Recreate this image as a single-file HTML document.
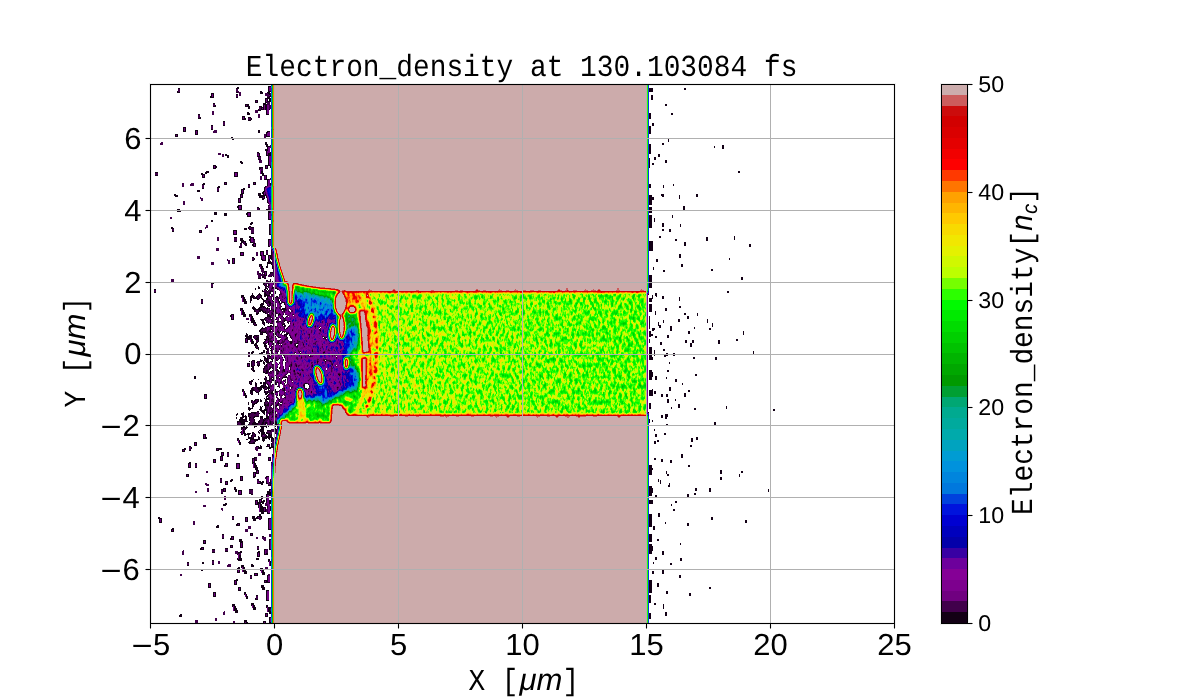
<!DOCTYPE html>
<html><head><meta charset="utf-8"><title>Electron_density at 130.103084 fs</title>
<style>
html,body{margin:0;padding:0;background:#fff;}
body{width:1200px;height:700px;overflow:hidden;position:relative;font-family:"Liberation Sans",sans-serif;}
svg{position:absolute;left:0;top:0;display:block;will-change:transform}
text{fill:#000;text-rendering:geometricPrecision}
.mono{font-family:"Liberation Mono",monospace}
.sans{font-family:"Liberation Sans",sans-serif}
</style></head><body>
<svg width="1200" height="700" viewBox="0 0 1200 700">

<defs>
<filter id="cmap" color-interpolation-filters="sRGB" filterUnits="userSpaceOnUse" x="150" y="84" width="745" height="540">
<feComponentTransfer><feFuncR type="discrete" tableValues="1 0.0745 0.2549 0.2549 0.4392 0.4392 0.4902 0.4902 0.5216 0.5216 0.4275 0.4275 0.2196 0.2196 0.0118 0.0118 0 0 0 0 0 0 0 0 0 0 0 0 0 0 0 0 0 0 0 0 0 0 0 0 0 0 0 0 0 0 0 0 0 0 0 0 0 0 0 0 0 0 0 0 0.1725 0.1725 0.4588 0.4588 0.7373 0.7373 0.8157 0.8157 0.8941 0.8941 0.9451 0.9451 0.9725 0.9725 1 1 1 1 1 1 1 1 1 1 0.9961 0.9961 0.9451 0.9451 0.8941 0.8941 0.8549 0.8549 0.8235 0.8235 0.8 0.8 0.8 0.8 0.8 0.8"/><feFuncG type="discrete" tableValues="1 0 0 0 0 0 0 0 0 0 0 0 0 0 0 0 0 0 0 0 0.0745 0.0745 0.2549 0.2549 0.4706 0.4706 0.5216 0.5216 0.5725 0.5725 0.6118 0.6118 0.6392 0.6392 0.6667 0.6667 0.6667 0.6667 0.6667 0.6667 0.6549 0.6549 0.6235 0.6235 0.6039 0.6039 0.6549 0.6549 0.7059 0.7059 0.7608 0.7608 0.8118 0.8118 0.8627 0.8627 0.9176 0.9176 0.9804 0.9804 1 1 1 1 1 1 0.9725 0.9725 0.9451 0.9451 0.9059 0.9059 0.8549 0.8549 0.7882 0.7882 0.7098 0.7098 0.6314 0.6314 0.4588 0.4588 0.2235 0.2235 0 0 0 0 0 0 0 0 0 0 0.0471 0.0471 0.3608 0.3608 0.6745 0.6745"/><feFuncB type="discrete" tableValues="1 0.0824 0.2941 0.2941 0.502 0.502 0.5569 0.5569 0.5882 0.5882 0.6118 0.6118 0.6392 0.6392 0.6667 0.6667 0.7412 0.7412 0.8196 0.8196 0.8667 0.8667 0.8667 0.8667 0.8667 0.8667 0.8667 0.8667 0.8667 0.8667 0.8275 0.8275 0.749 0.749 0.6706 0.6706 0.6157 0.6157 0.5647 0.5647 0.451 0.451 0.2 0.2 0 0 0 0 0 0 0 0 0 0 0 0 0 0 0 0 0 0 0 0 0 0 0 0 0 0 0 0 0 0 0 0 0 0 0 0 0 0 0 0 0 0 0 0 0 0 0 0 0 0 0.0471 0.0471 0.3608 0.3608 0.6745 0.6745"/></feComponentTransfer>
</filter>
<filter id="nz" color-interpolation-filters="sRGB" filterUnits="userSpaceOnUse" x="215" y="236" width="440" height="230">
<feTurbulence type="fractalNoise" baseFrequency="0.36 0.19" numOctaves="2" seed="7" result="t"/>
<feColorMatrix in="t" type="matrix" values="1 0 0 0 0 1 0 0 0 0 1 0 0 0 0 0 0 0 0 1" result="g"/>
<feComposite in="g" in2="SourceGraphic" operator="in" result="gm"/>
<feComposite in="SourceGraphic" in2="gm" operator="arithmetic" k1="0" k2="1" k3="0.340" k4="-0.170"/>
</filter>
<filter id="nzp" color-interpolation-filters="sRGB" filterUnits="userSpaceOnUse" x="215" y="236" width="440" height="230">
<feTurbulence type="fractalNoise" baseFrequency="0.36 0.22" numOctaves="2" seed="3" result="t"/>
<feColorMatrix in="t" type="matrix" values="1 0 0 0 0 1 0 0 0 0 1 0 0 0 0 0 0 0 0 1" result="g"/>
<feComposite in="g" in2="SourceGraphic" operator="in" result="gm"/>
<feComposite in="SourceGraphic" in2="gm" operator="arithmetic" k1="0" k2="1" k3="0.260" k4="-0.130"/>
</filter>
<filter id="nzc" color-interpolation-filters="sRGB" filterUnits="userSpaceOnUse" x="215" y="236" width="440" height="230">
<feTurbulence type="fractalNoise" baseFrequency="0.2 0.15" numOctaves="2" seed="11" result="t"/>
<feColorMatrix in="t" type="matrix" values="1 0 0 0 0 1 0 0 0 0 1 0 0 0 0 0 0 0 0 1" result="g"/>
<feComposite in="g" in2="SourceGraphic" operator="in" result="gm"/>
<feComposite in="SourceGraphic" in2="gm" operator="arithmetic" k1="0" k2="1" k3="0.100" k4="-0.050"/>
</filter>
<filter id="wb" color-interpolation-filters="sRGB" filterUnits="userSpaceOnUse" x="140" y="74" width="765" height="560"><feGaussianBlur stdDeviation="0.8"/></filter>
<filter id="b1" color-interpolation-filters="sRGB" filterUnits="userSpaceOnUse" x="215" y="236" width="440" height="230"><feGaussianBlur stdDeviation="0.8"/></filter>
<filter id="b2" color-interpolation-filters="sRGB" filterUnits="userSpaceOnUse" x="215" y="236" width="440" height="230"><feGaussianBlur stdDeviation="1.6"/></filter>
<filter id="b3" color-interpolation-filters="sRGB" filterUnits="userSpaceOnUse" x="215" y="236" width="440" height="230"><feGaussianBlur stdDeviation="3"/></filter>
<filter id="b5" color-interpolation-filters="sRGB" filterUnits="userSpaceOnUse" x="215" y="236" width="440" height="230"><feGaussianBlur stdDeviation="5"/></filter>
<clipPath id="axclip"><rect x="151" y="85" width="743" height="538"/></clipPath>
</defs>
<g clip-path="url(#axclip)">
<g filter="url(#cmap)">
<rect x="150" y="84" width="745" height="540" fill="#000"/>
<clipPath id="cl1"><rect x="150" y="84" width="126.5" height="540"/></clipPath>
<linearGradient id="mg" gradientUnits="userSpaceOnUse" x1="258" y1="0" x2="280" y2="0"><stop offset="0" stop-color="#000"/><stop offset="1" stop-color="#fff"/></linearGradient>
<mask id="m2" maskUnits="userSpaceOnUse" x="150" y="84" width="745" height="540"><rect x="150" y="84" width="745" height="540" fill="url(#mg)"/></mask>
<g><g filter="url(#nzc)"><g filter="url(#b5)">
<path d="M246.0 290.0 L260.0 278.0 L290.0 274.0 L290.0 436.0 L262.0 434.0 L250.0 420.0 L243.0 395.0 L247.0 370.0 L242.0 350.0 L245.0 320.0 L242.0 300.0 Z" fill="#010101"/>
<path d="M262.0 292.0 L290.0 284.0 L290.0 428.0 L264.0 420.0 Z" fill="#040404"/>
<path d="M254.0 284.0 L262.0 262.0 L272.0 246.0 L280.0 246.0 L280.0 284.0 Z" fill="#010101"/>
<path d="M230.0 412.0 L248.0 402.0 L280.0 418.0 L280.0 452.0 L262.0 452.0 L246.0 446.0 L234.0 432.0 Z" fill="#030303"/>
</g></g></g>
<defs><g id="chan">
<linearGradient id="lg" gradientUnits="userSpaceOnUse" x1="370" y1="0" x2="648" y2="0"><stop offset="0" stop-color="#a5a5a5"/><stop offset="0.5" stop-color="#a1a1a1"/><stop offset="1" stop-color="#9d9d9d"/></linearGradient>
<rect x="277" y="282" width="370" height="142" fill="url(#lg)"/>
<g filter="url(#b3)">
<path d="M262.0 276.0 L292.0 290.0 L318.0 296.0 L334.0 300.0 L340.0 322.0 L346.0 345.0 L350.0 362.0 L346.0 392.0 L332.0 398.0 L304.0 400.0 L290.0 410.0 L280.0 420.0 L262.0 434.0 Z" fill="#151515"/>
<path d="M262.0 286.0 L284.0 292.0 L290.0 320.0 L286.0 350.0 L292.0 380.0 L284.0 410.0 L262.0 424.0 Z" fill="#0b0b0b"/>
<ellipse cx="318.0" cy="309.0" rx="19.0" ry="10.0" fill="#454545"/>
<ellipse cx="304.0" cy="296.0" rx="10.0" ry="5.0" fill="#4c4c4c"/>
<ellipse cx="351.0" cy="336.0" rx="8.0" ry="16.0" fill="#383838"/>
<ellipse cx="322.0" cy="388.0" rx="6.0" ry="21.0" fill="#383838" transform="rotate(-14 322.0 388.0)"/>
<ellipse cx="352.0" cy="379.0" rx="7.0" ry="13.0" fill="#2e2e2e"/>
<ellipse cx="337.0" cy="352.0" rx="8.0" ry="7.0" fill="#1a1a1a"/>
</g>
<g filter="url(#b2)">
<path d="M291.0 284.0 L340.0 290.0 L346.0 292.0 L346.0 294.0 L330.0 294.5 L300.0 290.0 L291.0 288.0 Z" fill="#808080"/>
<path d="M286.0 424.0 L290.0 413.0 L300.0 404.0 L314.0 408.0 L330.0 402.0 L346.0 397.0 L360.0 392.0 L368.0 400.0 L368.0 424.0 Z" fill="#8f8f8f"/>
<path d="M296.0 398.0 L305.0 398.0 L307.0 420.0 L298.0 420.0 Z" fill="#b8b8b8"/>
<ellipse cx="347.0" cy="318.0" rx="9.0" ry="12.0" fill="#737373"/>
<path d="M346.0 291.0 L360.0 291.0 L360.0 304.0 L352.0 303.0 L347.0 306.0 Z" fill="#d1d1d1"/>
<path d="M353 288 Q366 300 369 325 Q372 350 370 372 Q367 396 352 418" fill="none" stroke="#cccccc" stroke-width="3.2"/>
</g>
<g filter="url(#b1)">
<path d="M366 293 Q374 308 376 330 Q377.5 352 375 374 Q372 396 364 412" fill="none" stroke="#f7f7f7" stroke-width="3" stroke-dasharray="7 2 4 2"/>
</g>
</g></defs>
<clipPath id="cA"><rect x="150" y="84" width="215" height="540"/></clipPath><clipPath id="cB"><rect x="365" y="84" width="300" height="540"/></clipPath>
<g mask="url(#m2)"><g clip-path="url(#cA)"><g filter="url(#nzp)"><use href="#chan"/></g></g><g clip-path="url(#cB)"><g filter="url(#nz)"><use href="#chan"/></g></g></g>
<g filter="url(#b1)" fill="#000">
<ellipse cx="277.2" cy="292.3" rx="2.4" ry="5.3" transform="rotate(-15 277.2 292.3)"/>
<ellipse cx="283.4" cy="306.0" rx="2.9" ry="4.1" transform="rotate(-25 283.4 306.0)"/>
<ellipse cx="286.3" cy="323.2" rx="2.3" ry="5.3" transform="rotate(-25 286.3 323.2)"/>
<ellipse cx="289.2" cy="338.0" rx="2.4" ry="6.3" transform="rotate(-35 289.2 338.0)"/>
<ellipse cx="296.6" cy="344.9" rx="2.4" ry="2.9" transform="rotate(0 296.6 344.9)"/>
<ellipse cx="306.9" cy="386.0" rx="3.6" ry="3.7" transform="rotate(0 306.9 386.0)"/>
<ellipse cx="283.4" cy="362.6" rx="1.8" ry="2.0" transform="rotate(0 283.4 362.6)"/>
<ellipse cx="290.3" cy="365.4" rx="1.8" ry="2.1" transform="rotate(0 290.3 365.4)"/>
<ellipse cx="296.6" cy="358.6" rx="1.7" ry="2.0" transform="rotate(0 296.6 358.6)"/>
<ellipse cx="294.9" cy="373.4" rx="1.8" ry="2.0" transform="rotate(0 294.9 373.4)"/>
<ellipse cx="285.1" cy="378.6" rx="1.9" ry="2.1" transform="rotate(0 285.1 378.6)"/>
<ellipse cx="278.3" cy="368.9" rx="1.8" ry="2.0" transform="rotate(0 278.3 368.9)"/>
<ellipse cx="276.5" cy="388.3" rx="2.2" ry="4.1" transform="rotate(0 276.5 388.3)"/>
</g>
<rect x="647" y="292" width="1" height="123" fill="#121212"/>
<path fill="#030303" d="M178 88h2v5h-2zM177 91h2v2h-2zM236 88h2v5h-2zM237 87h2v2h-2zM260 91h2v3h-2zM261 92h2v2h-2zM211 93h3v5h-3zM210 96h2v2h-2zM267 93h2v5h-2zM236 94h2v4h-2zM268 94h3v3h-3zM271 97h3v3h-3zM272 99h3v3h-3zM265 98h3v5h-3zM267 101h2v2h-2zM255 100h3v3h-3zM267 101h3v8h-3zM213 103h2v4h-2zM214 105h2v2h-2zM247 104h2v3h-2zM248 106h2v3h-2zM263 103h3v3h-3zM264 105h3v3h-3zM265 107h3v3h-3zM266 109h3v3h-3zM245 104h3v3h-3zM246 105h2v2h-2zM263 106h3v3h-3zM265 107h2v2h-2zM266 105h4v5h-4zM267 106h2v2h-2zM259 106h2v5h-2zM258 109h2v2h-2zM261 107h3v3h-3zM260 106h2v2h-2zM247 112h2v3h-2zM248 113h2v2h-2zM198 114h2v5h-2zM199 117h2v2h-2zM242 116h3v4h-3zM244 118h2v2h-2zM248 117h3v4h-3zM250 118h2v2h-2zM223 121h2v5h-2zM211 125h2v5h-2zM183 127h3v5h-3zM184 128h2v2h-2zM195 130h3v5h-3zM272 128h3v3h-3zM271 127h2v2h-2zM258 130h2v3h-2zM266 132h4v5h-4zM265 135h2v2h-2zM175 134h3v3h-3zM231 137h2v2h-2zM232 138h2v2h-2zM265 142h2v3h-2zM266 144h2v3h-2zM257 152h2v5h-2zM266 150h3v6h-3zM265 149h2v2h-2zM225 154h2v2h-2zM257 153h3v4h-3zM227 155h2v3h-2zM258 156h3v4h-3zM240 161h2v2h-2zM241 162h2v2h-2zM270 164h3v4h-3zM272 165h2v2h-2zM213 165h3v4h-3zM215 166h2v2h-2zM265 165h3v4h-3zM259 167h2v3h-2zM260 169h2v3h-2zM261 171h2v3h-2zM262 173h2v3h-2zM261 167h2v5h-2zM155 172h3v4h-3zM206 171h3v2h-3zM205 172h2v2h-2zM234 172h4v5h-4zM235 173h2v2h-2zM202 174h3v4h-3zM201 173h2v2h-2zM264 175h3v5h-3zM224 182h3v3h-3zM253 182h3v3h-3zM268 183h3v3h-3zM269 185h3v3h-3zM202 184h2v5h-2zM203 183h2v2h-2zM248 184h2v4h-2zM217 187h2v5h-2zM218 186h2v2h-2zM197 190h3v2h-3zM241 189h3v5h-3zM243 188h2v2h-2zM263 191h3v5h-3zM262 192h2v2h-2zM240 194h3v4h-3zM258 193h3v3h-3zM259 195h3v3h-3zM175 195h3v2h-3zM174 194h2v2h-2zM268 195h3v3h-3zM269 197h3v3h-3zM270 199h3v3h-3zM271 201h3v3h-3zM272 195h2v5h-2zM262 198h2v2h-2zM262 196h3v3h-3zM261 195h2v2h-2zM238 198h3v5h-3zM239 201h2v2h-2zM238 205h4v5h-4zM237 206h2v2h-2zM268 205h2v5h-2zM257 207h2v4h-2zM258 208h2v2h-2zM177 209h3v3h-3zM179 210h2v2h-2zM266 209h3v2h-3zM270 209h2v5h-2zM214 212h3v3h-3zM247 212h4v5h-4zM246 213h2v2h-2zM224 213h3v3h-3zM270 217h2v3h-2zM271 216h2v2h-2zM272 219h3v4h-3zM211 220h2v2h-2zM250 223h2v2h-2zM251 222h2v2h-2zM249 226h2v4h-2zM248 227h2v2h-2zM251 227h3v7h-3zM172 228h2v4h-2zM171 227h2v2h-2zM199 230h3v3h-3zM244 228h3v2h-3zM233 230h4v5h-4zM234 237h3v5h-3zM235 240h2v2h-2zM250 237h4v6h-4zM249 236h2v2h-2zM240 238h3v3h-3zM241 240h3v3h-3zM250 238h3v5h-3zM249 239h2v2h-2zM253 239h2v5h-2zM244 241h2v3h-2zM245 243h2v3h-2zM240 243h2v5h-2zM239 246h2v2h-2zM253 243h3v4h-3zM252 244h2v2h-2zM260 251h4v5h-4zM266 250h2v5h-2zM240 252h4v4h-4zM261 254h3v6h-3zM262 255h4v6h-4zM268 255h3v5h-3zM232 258h3v6h-3zM233 262h2v2h-2zM252 257h2v3h-2zM253 258h2v2h-2zM252 257h2v4h-2zM259 264h3v3h-3zM260 266h3v3h-3zM261 268h3v3h-3zM264 271h3v5h-3zM265 272h2v2h-2zM258 273h3v6h-3zM271 272h4v5h-4zM270 273h2v2h-2zM264 275h2v4h-2zM262 276h2v2h-2zM263 275h2v2h-2zM211 283h2v5h-2zM212 282h2v2h-2zM154 289h2v4h-2zM241 295h3v3h-3zM242 297h3v3h-3zM243 299h3v3h-3zM244 301h3v3h-3zM201 299h2v5h-2zM240 308h3v3h-3zM241 310h3v3h-3zM242 312h3v3h-3zM243 314h3v3h-3zM231 314h3v6h-3zM230 315h2v2h-2zM249 314h3v3h-3zM250 316h3v3h-3zM251 318h3v3h-3zM252 320h3v3h-3zM249 337h3v3h-3zM250 339h3v3h-3zM251 341h3v3h-3zM245 338h3v5h-3zM247 337h2v2h-2zM248 352h2v5h-2zM247 363h3v4h-3zM194 376h2v3h-2zM242 389h2v3h-2zM243 391h2v3h-2zM244 393h2v3h-2zM245 395h2v3h-2zM204 394h3v5h-3zM241 427h2v3h-2zM242 429h2v3h-2zM243 431h2v3h-2zM244 433h2v3h-2zM267 430h3v4h-3zM266 432h2v2h-2zM203 434h3v5h-3zM205 437h2v2h-2zM262 433h2v2h-2zM263 432h2v2h-2zM262 437h3v2h-3zM264 437h2v2h-2zM237 438h2v3h-2zM238 440h2v3h-2zM239 442h2v3h-2zM194 442h3v4h-3zM267 444h3v3h-3zM189 446h2v5h-2zM190 447h2v2h-2zM216 448h3v3h-3zM217 449h2v2h-2zM219 448h3v2h-3zM256 446h3v3h-3zM255 447h2v2h-2zM182 449h3v3h-3zM184 448h2v2h-2zM221 452h3v4h-3zM227 452h2v5h-2zM237 454h2v3h-2zM220 456h3v5h-3zM221 455h2v2h-2zM252 458h3v5h-3zM254 457h2v2h-2zM255 457h2v4h-2zM268 457h3v4h-3zM213 459h3v4h-3zM214 460h2v2h-2zM252 461h3v3h-3zM253 463h3v3h-3zM254 465h3v3h-3zM255 467h3v3h-3zM188 463h3v5h-3zM189 462h2v2h-2zM195 463h2v5h-2zM225 463h3v4h-3zM224 465h2v2h-2zM236 463h4v6h-4zM256 470h3v4h-3zM255 472h2v2h-2zM186 474h3v3h-3zM253 472h3v5h-3zM254 473h2v2h-2zM253 475h2v3h-2zM240 476h3v5h-3zM220 478h2v5h-2zM257 479h2v5h-2zM270 479h3v3h-3zM271 481h3v3h-3zM272 483h3v3h-3zM225 481h3v4h-3zM226 483h2v2h-2zM230 480h2v2h-2zM231 479h2v2h-2zM257 481h4v3h-4zM261 482h2v3h-2zM262 481h2v2h-2zM268 482h2v4h-2zM223 488h3v4h-3zM234 487h2v3h-2zM235 489h2v3h-2zM221 489h2v5h-2zM249 489h4v5h-4zM269 489h3v4h-3zM238 490h4v5h-4zM251 491h2v4h-2zM267 491h3v3h-3zM268 493h3v3h-3zM266 496h2v4h-2zM271 494h3v4h-3zM261 496h2v3h-2zM255 500h3v5h-3zM259 499h3v4h-3zM262 501h2v3h-2zM263 500h2v2h-2zM269 501h2v3h-2zM270 502h2v2h-2zM271 502h3v7h-3zM272 507h2v2h-2zM223 504h3v2h-3zM225 503h2v2h-2zM258 502h3v3h-3zM259 504h3v3h-3zM260 506h3v3h-3zM268 504h2v3h-2zM269 506h2v3h-2zM270 508h2v3h-2zM271 510h2v3h-2zM258 505h3v3h-3zM259 507h3v3h-3zM260 509h3v3h-3zM261 511h3v3h-3zM263 507h3v5h-3zM259 514h2v3h-2zM260 516h2v3h-2zM232 516h2v4h-2zM252 516h3v3h-3zM253 518h3v3h-3zM245 517h3v5h-3zM246 518h2v2h-2zM257 516h3v3h-3zM256 517h2v2h-2zM159 518h3v5h-3zM158 517h2v2h-2zM237 523h3v3h-3zM236 524h2v2h-2zM217 525h2v3h-2zM216 526h2v2h-2zM171 529h3v3h-3zM172 528h2v2h-2zM250 533h3v3h-3zM222 534h2v5h-2zM262 536h2v3h-2zM263 537h2v2h-2zM231 536h3v4h-3zM230 538h2v2h-2zM271 537h2v3h-2zM272 539h2v3h-2zM273 541h2v3h-2zM274 543h2v3h-2zM203 540h3v4h-3zM239 539h3v3h-3zM240 541h3v3h-3zM240 542h3v6h-3zM230 545h3v3h-3zM269 544h3v2h-3zM271 545h2v2h-2zM201 547h3v3h-3zM200 548h2v2h-2zM225 548h3v4h-3zM257 546h2v4h-2zM212 549h3v4h-3zM264 549h3v6h-3zM266 553h2v2h-2zM257 552h3v5h-3zM258 551h2v2h-2zM237 552h2v3h-2zM238 554h2v3h-2zM239 556h2v3h-2zM240 558h2v3h-2zM239 552h2v4h-2zM240 551h2v2h-2zM271 557h2v2h-2zM212 560h2v5h-2zM238 559h2v2h-2zM237 558h2v2h-2zM256 558h3v2h-3zM257 558h2v2h-2zM268 559h2v3h-2zM269 561h2v3h-2zM270 563h2v3h-2zM271 565h2v3h-2zM187 562h2v4h-2zM202 562h2v2h-2zM241 565h3v3h-3zM242 567h3v3h-3zM243 569h3v3h-3zM244 571h3v3h-3zM251 564h2v3h-2zM252 565h2v2h-2zM237 568h3v5h-3zM238 567h2v2h-2zM201 569h2v2h-2zM260 568h3v3h-3zM261 570h3v3h-3zM262 572h3v3h-3zM254 573h4v3h-4zM250 575h2v4h-2zM234 580h3v5h-3zM236 579h2v2h-2zM264 580h3v3h-3zM265 581h2v2h-2zM208 583h3v5h-3zM261 585h3v3h-3zM262 587h3v3h-3zM238 587h3v4h-3zM213 592h3v5h-3zM244 592h2v3h-2zM245 594h2v3h-2zM246 596h2v3h-2zM256 595h2v5h-2zM255 598h2v2h-2zM251 603h3v3h-3zM252 605h3v3h-3zM253 607h3v3h-3zM232 604h3v3h-3zM233 606h3v3h-3zM234 608h3v3h-3zM235 610h3v3h-3zM266 605h2v3h-2zM267 607h2v3h-2zM268 609h2v3h-2zM269 611h2v3h-2zM270 608h2v4h-2zM269 607h2v2h-2zM265 613h3v4h-3zM180 614h2v3h-2zM179 615h2v2h-2zM270 617h2v4h-2zM269 619h2v2h-2zM244 620h3v3h-3zM245 622h3v3h-3zM246 624h3v3h-3zM247 626h3v3h-3zM263 621h3v3h-3zM268 86h3v6h-3zM267 92h3v4h-3zM267 95h3v4h-3zM269 98h3v4h-3zM266 104h3v11h-3zM267 131h3v6h-3zM267 146h3v8h-3zM268 152h3v4h-3zM268 155h3v11h-3zM267 179h3v11h-3zM269 191h3v8h-3zM267 200h3v4h-3zM268 209h3v4h-3zM268 212h3v8h-3zM269 224h3v11h-3zM268 239h3v8h-3zM266 476h3v8h-3zM268 482h3v4h-3zM266 494h3v6h-3zM266 497h3v8h-3zM268 500h3v4h-3zM267 503h3v11h-3zM268 518h3v11h-3zM268 524h3v6h-3zM269 539h3v11h-3zM267 575h3v8h-3zM266 590h3v11h-3zM269 617h3v6h-3zM684 88h2v2h-2zM651 95h2v5h-2zM665 104h2v2h-2zM671 113h2v2h-2zM652 123h2v3h-2zM668 139h1v3h-1zM662 143h2v2h-2zM714 146h1v2h-1zM722 145h2v4h-2zM658 154h2v3h-2zM654 157h2v3h-2zM665 160h2v3h-2zM652 163h2v2h-2zM738 171h2v2h-2zM663 185h1v3h-1zM673 184h1v2h-1zM661 194h1v2h-1zM662 194h2v3h-2zM696 194h2v3h-2zM679 195h1v4h-1zM652 197h2v3h-2zM683 206h2v4h-2zM672 215h1v3h-1zM654 218h1v4h-1zM662 223h2v4h-2zM680 224h1v3h-1zM662 229h2v2h-2zM669 229h2v3h-2zM734 236h1v4h-1zM659 236h2v2h-2zM706 237h2v4h-2zM675 239h2v2h-2zM684 242h2v4h-2zM749 244h2v3h-2zM679 254h2v4h-2zM656 259h2v3h-2zM729 258h1v2h-1zM681 264h2v3h-2zM653 267h1v3h-1zM711 269h2v2h-2zM663 270h2v2h-2zM741 277h2v3h-2zM727 291h2v2h-2zM655 293h2v3h-2zM652 295h1v4h-1zM656 295h1v2h-1zM662 296h2v3h-2zM679 297h1v4h-1zM679 306h2v2h-2zM665 308h2v3h-2zM655 311h1v4h-1zM684 313h2v2h-2zM697 313h1v3h-1zM687 316h2v3h-2zM663 320h1v3h-1zM678 319h2v3h-2zM707 319h1v4h-1zM658 322h1v4h-1zM712 323h1v4h-1zM659 325h2v3h-2zM652 328h2v3h-2zM653 328h2v2h-2zM670 326h2v5h-2zM694 327h1v2h-1zM709 328h2v2h-2zM688 331h2v3h-2zM743 331h1v4h-1zM651 334h2v2h-2zM655 336h2v2h-2zM667 335h2v3h-2zM692 340h2v3h-2zM718 340h2v4h-2zM736 339h2v2h-2zM685 340h2v3h-2zM660 342h2v3h-2zM690 343h2v4h-2zM654 350h1v3h-1zM663 349h2v2h-2zM753 351h1v3h-1zM654 353h1v3h-1zM664 354h2v3h-2zM666 353h2v3h-2zM673 353h2v3h-2zM652 357h1v3h-1zM693 357h2v2h-2zM715 357h2v3h-2zM669 362h1v2h-1zM667 370h2v2h-2zM695 374h2v2h-2zM655 376h2v4h-2zM666 377h1v2h-1zM675 379h2v3h-2zM682 383h1v2h-1zM669 387h2v4h-2zM652 389h1v4h-1zM688 390h2v2h-2zM654 391h2v3h-2zM661 394h2v3h-2zM684 393h2v4h-2zM666 394h2v3h-2zM667 399h2v4h-2zM675 399h1v2h-1zM678 404h2v4h-2zM726 406h1v3h-1zM671 407h1v2h-1zM694 408h2v2h-2zM773 409h2v2h-2zM665 414h2v5h-2zM666 414h2v3h-2zM661 415h2v3h-2zM652 420h1v2h-1zM666 424h2v2h-2zM714 422h2v4h-2zM654 429h1v2h-1zM655 434h2v3h-2zM664 433h2v2h-2zM696 437h2v3h-2zM657 440h2v2h-2zM691 438h2v4h-2zM654 441h2v3h-2zM690 445h2v2h-2zM681 454h2v4h-2zM654 458h2v2h-2zM661 459h2v3h-2zM670 460h2v3h-2zM688 465h2v2h-2zM652 468h1v2h-1zM720 470h2v4h-2zM666 471h1v3h-1zM741 471h2v2h-2zM667 474h2v2h-2zM739 474h1v3h-1zM720 477h2v3h-2zM658 479h1v3h-1zM660 480h1v4h-1zM669 483h1v4h-1zM668 485h2v2h-2zM695 488h2v3h-2zM709 488h2v4h-2zM768 489h1v3h-1zM687 494h2v3h-2zM694 493h2v2h-2zM655 495h2v3h-2zM675 501h2v2h-2zM671 504h1v2h-1zM673 509h2v2h-2zM658 513h2v3h-2zM658 515h2v2h-2zM711 517h2v3h-2zM745 520h2v3h-2zM665 522h1v2h-1zM687 523h2v3h-2zM653 526h2v4h-2zM657 539h2v2h-2zM680 543h1v2h-1zM662 551h2v4h-2zM655 557h2v3h-2zM680 558h2v3h-2zM653 562h1v2h-1zM670 563h2v2h-2zM662 570h2v4h-2zM652 571h2v3h-2zM679 575h2v3h-2zM657 583h2v4h-2zM709 587h2v2h-2zM666 591h2v3h-2zM689 593h2v3h-2zM654 603h2v2h-2zM663 604h1v3h-1zM663 605h1v4h-1zM665 612h2v4h-2zM649 88h4v4h-4zM649 113h2v6h-2zM649 126h2v8h-2zM649 144h2v10h-2zM649 158h1v10h-1zM649 184h2v4h-2zM649 195h3v10h-3zM649 207h3v6h-3zM649 215h3v13h-3zM649 241h4v10h-4zM651 243h2v5h-2zM649 275h3v13h-3zM649 298h3v4h-3zM649 304h3v8h-3zM649 316h1v13h-1zM649 331h2v6h-2zM649 339h1v4h-1zM649 347h3v13h-3zM649 370h3v10h-3zM651 372h2v5h-2zM649 390h4v6h-4zM649 403h2v6h-2zM649 419h1v4h-1zM649 465h3v10h-3zM649 486h3v10h-3zM651 488h2v5h-2zM649 500h4v4h-4zM649 514h3v13h-3zM649 534h3v8h-3zM649 544h3v10h-3zM651 546h2v5h-2zM649 580h3v13h-3zM649 595h2v8h-2zM649 613h2v6h-2z"/>
<path fill="#070707" d="M271 86h3v2h-3zM178 89h2v3h-2zM236 89h2v3h-2zM239 92h2v4h-2zM238 91h1v2h-1zM265 93h3v3h-3zM267 94h2v3h-2zM270 93h3v2h-3zM271 94h2v2h-2zM236 95h2v2h-2zM267 102h3v6h-3zM213 104h2v2h-2zM268 105h3v2h-3zM269 107h2v2h-2zM259 107h2v3h-2zM212 111h2v4h-2zM255 110h3v3h-3zM198 115h2v3h-2zM258 114h2v4h-2zM248 118h3v2h-3zM223 122h2v3h-2zM211 126h2v3h-2zM214 130h3v3h-3zM213 131h2v2h-2zM264 134h2v4h-2zM161 142h2v3h-2zM160 143h1v2h-1zM270 145h3v3h-3zM271 146h2v2h-2zM257 153h2v3h-2zM218 153h3v2h-3zM222 154h2v3h-2zM258 157h3v2h-3zM259 160h3v3h-3zM271 162h2v4h-2zM270 164h1v2h-1zM261 168h2v3h-2zM155 173h3v2h-3zM260 176h2v4h-2zM264 176h2v3h-2zM265 175h1v2h-1zM270 178h2v2h-2zM269 179h1v2h-1zM182 183h2v4h-2zM191 183h3v3h-3zM190 184h2v2h-2zM202 185h2v3h-2zM248 185h2v2h-2zM271 186h2v3h-2zM270 187h1v2h-1zM217 188h2v3h-2zM272 196h2v3h-2zM201 198h2v3h-2zM200 197h1v2h-1zM183 201h2v4h-2zM268 206h2v3h-2zM257 208h2v2h-2zM269 207h2v4h-2zM270 210h2v3h-2zM170 217h2v2h-2zM206 225h2v3h-2zM205 227h1v2h-1zM249 227h2v2h-2zM251 228h3v5h-3zM172 229h2v2h-2zM270 231h2v2h-2zM217 237h2v4h-2zM234 238h3v3h-3zM253 240h2v3h-2zM240 244h2v3h-2zM243 242h2v2h-2zM244 243h1v2h-1zM216 248h3v3h-3zM256 252h2v4h-2zM266 251h2v3h-2zM197 256h3v3h-3zM252 258h2v2h-2zM228 260h2v4h-2zM227 259h1v2h-1zM211 262h3v3h-3zM262 269h2v4h-2zM261 270h1v2h-1zM257 271h2v4h-2zM258 274h3v4h-3zM269 274h2v3h-2zM268 275h1v2h-1zM271 273h4v3h-4zM261 274h3v2h-3zM264 276h2v2h-2zM171 279h3v3h-3zM211 284h2v3h-2zM154 290h2v2h-2zM201 300h2v3h-2zM246 318h3v2h-3zM248 353h2v3h-2zM271 429h3v3h-3zM267 431h3v2h-3zM270 432h2v2h-2zM189 447h2v3h-2zM255 447h3v3h-3zM256 449h2v2h-2zM227 453h2v3h-2zM258 453h3v3h-3zM255 458h2v2h-2zM195 464h2v3h-2zM206 471h2v2h-2zM271 476h3v3h-3zM220 479h2v3h-2zM257 480h2v3h-2zM266 478h2v3h-2zM265 477h1v2h-1zM268 483h2v2h-2zM206 484h3v2h-3zM205 483h2v2h-2zM207 488h2v4h-2zM221 490h2v3h-2zM249 490h4v3h-4zM195 491h2v2h-2zM251 492h2v2h-2zM224 496h2v4h-2zM225 497h1v2h-1zM266 497h2v2h-2zM265 503h3v3h-3zM203 505h3v2h-3zM221 508h2v2h-2zM222 509h1v2h-1zM266 509h2v3h-2zM267 508h1v2h-1zM271 513h2v4h-2zM272 515h1v2h-1zM232 517h2v2h-2zM259 517h2v3h-2zM193 521h2v4h-2zM248 526h3v3h-3zM245 529h3v3h-3zM222 535h2v3h-2zM269 534h2v3h-2zM256 537h2v2h-2zM262 537h2v2h-2zM263 538h1v2h-1zM264 537h2v4h-2zM265 539h1v2h-1zM225 549h3v2h-3zM257 547h2v2h-2zM212 550h3v2h-3zM266 549h2v4h-2zM182 551h2v4h-2zM183 550h1v2h-1zM235 551h3v3h-3zM236 552h2v2h-2zM239 553h2v2h-2zM212 561h2v3h-2zM187 563h2v2h-2zM218 561h2v3h-2zM228 564h3v3h-3zM227 565h2v2h-2zM265 567h3v2h-3zM180 574h2v2h-2zM250 576h2v2h-2zM268 574h2v3h-2zM256 596h2v3h-2zM270 609h2v2h-2zM223 612h2v3h-2zM224 611h1v2h-1zM270 618h2v2h-2zM195 620h3v3h-3zM215 618h2v3h-2zM233 621h2v4h-2z"/>
<path fill="#0c0c0c" d="M212 94h1v3h-1zM269 95h1v1h-1zM266 99h1v3h-1zM256 101h1v1h-1zM264 105h1v5h-1zM246 105h1v1h-1zM264 107h1v1h-1zM267 106h2v3h-2zM262 108h1v1h-1zM243 117h1v2h-1zM184 128h1v3h-1zM196 131h1v3h-1zM273 129h1v1h-1zM267 133h2v3h-2zM176 135h1v1h-1zM267 151h1v4h-1zM258 154h1v2h-1zM271 165h1v2h-1zM214 166h1v2h-1zM266 166h1v2h-1zM260 169h1v5h-1zM235 173h2v3h-2zM203 175h1v2h-1zM265 176h1v3h-1zM225 183h1v1h-1zM254 183h1v1h-1zM242 190h1v3h-1zM264 192h1v3h-1zM241 195h1v2h-1zM269 197h1v5h-1zM263 197h1v1h-1zM239 199h1v3h-1zM239 206h2v3h-2zM178 210h1v1h-1zM248 213h2v3h-2zM273 220h1v2h-1zM200 231h1v1h-1zM234 231h2v3h-2zM251 238h2v4h-2zM251 239h1v3h-1zM254 244h1v2h-1zM261 252h2v3h-2zM241 253h2v2h-2zM262 255h1v4h-1zM263 256h2v4h-2zM269 256h1v3h-1zM233 259h1v4h-1zM260 266h1v3h-1zM265 272h1v3h-1zM242 297h1v5h-1zM241 310h1v5h-1zM232 315h1v4h-1zM250 316h1v5h-1zM250 339h1v3h-1zM246 339h1v3h-1zM248 364h1v2h-1zM243 391h1v5h-1zM205 395h1v3h-1zM242 429h1v5h-1zM204 435h1v3h-1zM238 440h1v3h-1zM195 443h1v2h-1zM268 445h1v1h-1zM217 449h1v1h-1zM257 447h1v1h-1zM183 450h1v1h-1zM222 453h1v2h-1zM221 457h1v3h-1zM253 459h1v3h-1zM269 458h1v2h-1zM214 460h1v2h-1zM253 463h1v5h-1zM189 464h1v3h-1zM226 464h1v2h-1zM237 464h2v4h-2zM257 471h1v2h-1zM187 475h1v1h-1zM254 473h1v3h-1zM241 477h1v3h-1zM271 481h1v3h-1zM226 482h1v2h-1zM258 482h2v1h-2zM224 489h1v2h-1zM270 490h1v2h-1zM239 491h2v3h-2zM272 495h1v2h-1zM256 501h1v3h-1zM260 500h1v2h-1zM272 503h1v5h-1zM259 504h1v3h-1zM269 506h1v5h-1zM259 507h1v5h-1zM264 508h1v3h-1zM246 518h1v3h-1zM258 517h1v1h-1zM160 519h1v3h-1zM238 524h1v1h-1zM172 530h1v1h-1zM251 534h1v1h-1zM232 537h1v2h-1zM272 539h1v5h-1zM204 541h1v2h-1zM241 543h1v4h-1zM231 546h1v1h-1zM202 548h1v1h-1zM265 550h1v4h-1zM258 553h1v3h-1zM238 554h1v5h-1zM269 561h1v5h-1zM242 567h1v5h-1zM238 569h1v3h-1zM261 570h1v3h-1zM255 574h2v1h-2zM235 581h1v3h-1zM265 581h1v1h-1zM209 584h1v3h-1zM239 588h1v2h-1zM214 593h1v3h-1zM245 594h1v3h-1zM252 605h1v3h-1zM233 606h1v5h-1zM267 607h1v5h-1zM266 614h1v2h-1zM245 622h1v5h-1zM264 622h1v1h-1zM269 87h2v4h-2zM267 105h2v9h-2zM268 132h2v4h-2zM268 147h2v6h-2zM269 156h2v9h-2zM268 180h2v9h-2zM270 192h2v6h-2zM269 213h2v6h-2zM270 225h2v9h-2zM269 240h2v6h-2zM267 477h2v6h-2zM267 495h2v4h-2zM267 498h2v6h-2zM268 504h2v9h-2zM269 519h2v9h-2zM269 525h2v4h-2zM270 540h2v9h-2zM268 576h2v6h-2zM267 591h2v9h-2zM270 618h2v4h-2z"/>
<g filter="url(#wb)">
<path d="M265.5 188.0 L274.0 186.0 L274.0 214.0 L271.5 208.0 L268.5 198.0 Z" fill="#333333"/>
<path d="M272.6 248.0 L276.0 249.0 L284.0 283.0 L276.5 285.0 L274.2 272.0 L272.6 258.0 Z" fill="#161616"/>
<path d="M276.0 268.0 L280.0 270.0 L284.0 283.0 L279.5 284.0 Z" fill="#292929"/>
</g>
<clipPath id="cl3"><rect x="271" y="84" width="377.8" height="540"/></clipPath>
<g clip-path="url(#cl3)"><g filter="url(#wb)">
<rect x="346" y="291" width="301.8" height="1.7" fill="#e6e6e6"/><rect x="352" y="414.3" width="295.8" height="1.7" fill="#e6e6e6"/>
<path d="M272.4 74.0 L272.4 247.0 L274.6 250.0 L276.6 260.0 L279.8 271.0 L282.6 279.0 L283.2 283.0 L287.4 283.5 L287.8 303.0 L290.6 306.0 L293.4 303.0 L293.8 284.0 L304.0 286.4 L318.0 288.7 L332.0 289.9 L346.0 292.0 L647.8 292.0 L647.8 74.0 Z" fill="#ffffff"/>
<path d="M272.4 634.0 L272.4 500.0 L273.5 465.0 L276.0 446.0 L279.0 432.0 L281.0 419.6 L287.0 419.6 L289.0 422.0 L330.0 422.0 L331.4 404.0 L341.7 404.0 L348.6 414.5 L352.0 415.0 L647.8 415.0 L647.8 634.0 Z" fill="#ffffff"/>
<rect x="369.0" y="288.8" width="1.5" height="1.7" fill="#e6e6e6"/>
<rect x="393.0" y="289.4" width="2.0" height="1.7" fill="#e6e6e6"/>
<rect x="417.0" y="289.3" width="1.0" height="1.7" fill="#e6e6e6"/>
<rect x="432.0" y="289.2" width="1.0" height="1.7" fill="#e6e6e6"/>
<rect x="456.0" y="288.6" width="1.0" height="1.7" fill="#e6e6e6"/>
<rect x="461.0" y="288.9" width="1.0" height="1.7" fill="#e6e6e6"/>
<rect x="476.0" y="289.0" width="2.0" height="1.7" fill="#e6e6e6"/>
<rect x="484.0" y="288.6" width="1.0" height="1.7" fill="#e6e6e6"/>
<rect x="499.0" y="288.8" width="1.5" height="1.7" fill="#e6e6e6"/>
<rect x="507.0" y="289.2" width="1.0" height="1.7" fill="#e6e6e6"/>
<rect x="515.0" y="289.1" width="1.5" height="1.7" fill="#e6e6e6"/>
<rect x="523.0" y="288.7" width="1.0" height="1.7" fill="#e6e6e6"/>
<rect x="531.0" y="289.2" width="1.0" height="1.7" fill="#e6e6e6"/>
<rect x="539.0" y="288.8" width="1.0" height="1.7" fill="#e6e6e6"/>
<rect x="558.0" y="289.3" width="2.0" height="1.7" fill="#e6e6e6"/>
<rect x="566.0" y="288.7" width="2.0" height="1.7" fill="#e6e6e6"/>
<rect x="574.0" y="289.4" width="1.5" height="1.7" fill="#e6e6e6"/>
<rect x="585.0" y="288.6" width="1.5" height="1.7" fill="#e6e6e6"/>
<rect x="593.0" y="289.3" width="1.5" height="1.7" fill="#e6e6e6"/>
<rect x="598.0" y="288.9" width="2.0" height="1.7" fill="#e6e6e6"/>
<rect x="617.0" y="288.6" width="2.0" height="1.7" fill="#e6e6e6"/>
<rect x="641.0" y="288.9" width="1.5" height="1.7" fill="#e6e6e6"/>
<rect x="367.0" y="416.3" width="1.5" height="1.7" fill="#e6e6e6"/>
<rect x="391.0" y="415.9" width="1.5" height="1.7" fill="#e6e6e6"/>
<rect x="406.0" y="416.2" width="1.0" height="1.7" fill="#e6e6e6"/>
<rect x="417.0" y="416.4" width="1.0" height="1.7" fill="#e6e6e6"/>
<rect x="441.0" y="415.9" width="1.5" height="1.7" fill="#e6e6e6"/>
<rect x="446.0" y="416.0" width="1.5" height="1.7" fill="#e6e6e6"/>
<rect x="457.0" y="415.9" width="1.0" height="1.7" fill="#e6e6e6"/>
<rect x="472.0" y="415.6" width="1.0" height="1.7" fill="#e6e6e6"/>
<rect x="491.0" y="416.4" width="1.0" height="1.7" fill="#e6e6e6"/>
<rect x="496.0" y="416.2" width="1.5" height="1.7" fill="#e6e6e6"/>
<rect x="507.0" y="416.0" width="2.0" height="1.7" fill="#e6e6e6"/>
<rect x="518.0" y="416.2" width="1.0" height="1.7" fill="#e6e6e6"/>
<rect x="537.0" y="416.2" width="1.5" height="1.7" fill="#e6e6e6"/>
<rect x="548.0" y="415.6" width="1.0" height="1.7" fill="#e6e6e6"/>
<rect x="556.0" y="415.9" width="2.0" height="1.7" fill="#e6e6e6"/>
<rect x="567.0" y="416.3" width="1.5" height="1.7" fill="#e6e6e6"/>
<rect x="578.0" y="416.3" width="2.0" height="1.7" fill="#e6e6e6"/>
<rect x="583.0" y="415.8" width="1.5" height="1.7" fill="#e6e6e6"/>
<rect x="594.0" y="415.7" width="1.0" height="1.7" fill="#e6e6e6"/>
<rect x="618.0" y="415.7" width="2.0" height="1.7" fill="#e6e6e6"/>
<rect x="296.0" y="420.0" width="2.0" height="2.6" fill="#dbdbdb"/>
<rect x="305.0" y="419.0" width="4.0" height="2.6" fill="#dbdbdb"/>
<rect x="314.0" y="419.9" width="2.0" height="2.6" fill="#dbdbdb"/>
<rect x="318.0" y="419.7" width="3.0" height="2.6" fill="#dbdbdb"/>
<ellipse cx="310.6" cy="320.3" rx="2.9" ry="6.9" fill="#ffffff" transform="rotate(15 310.6 320.3)"/>
<ellipse cx="332.6" cy="332.9" rx="3.5" ry="8.7" fill="#ffffff" transform="rotate(5 332.6 332.9)"/>
<ellipse cx="340.6" cy="303.5" rx="6.7" ry="12.5" fill="#ffffff"/>
<ellipse cx="341.7" cy="327.0" rx="3.9" ry="12.2" fill="#ffffff"/>
<ellipse cx="352.0" cy="309.5" rx="4.8" ry="4.5" fill="#ffffff"/>
<path d="M358.6 310.0 L365.4 309.5 L368.6 332.0 L370.0 352.5 L362.0 354.0 L360.4 332.0 Z" fill="#ffffff"/>
<path d="M361.4 357.5 L367.2 357.0 L366.6 388.0 L361.4 388.5 L361.2 372.0 Z" fill="#ffffff"/>
<ellipse cx="318.9" cy="375.1" rx="3.9" ry="9.7" fill="#ffffff" transform="rotate(-15 318.9 375.1)"/>
<ellipse cx="300.0" cy="394.0" rx="3.6" ry="6.0" fill="#ffffff"/>
<ellipse cx="346.3" cy="363.1" rx="2.6" ry="6.2" fill="#ffffff"/>
<ellipse cx="346.9" cy="399.1" rx="1.5" ry="1.5" fill="#ededed"/>
<ellipse cx="350.5" cy="399.7" rx="1.5" ry="1.5" fill="#ededed"/>
<ellipse cx="346.0" cy="409.0" rx="1.7" ry="1.5" fill="#ededed"/>
<ellipse cx="369.0" cy="330.0" rx="1.2" ry="4.0" fill="#ededed"/>
<ellipse cx="371.0" cy="372.0" rx="1.2" ry="5.0" fill="#ededed"/>
</g></g>
</g>
</g>
<g fill="#b0b0b0">
<rect x="274" y="85" width="1" height="538"/>
<rect x="398" y="85" width="1" height="538"/>
<rect x="522" y="85" width="1" height="538"/>
<rect x="646" y="85" width="1" height="538"/>
<rect x="770" y="85" width="1" height="538"/>
<rect x="151" y="138" width="743" height="1"/>
<rect x="151" y="210" width="743" height="1"/>
<rect x="151" y="282" width="743" height="1"/>
<rect x="151" y="354" width="743" height="1"/>
<rect x="151" y="425" width="743" height="1"/>
<rect x="151" y="497" width="743" height="1"/>
<rect x="151" y="569" width="743" height="1"/>
</g>
<g fill="#000">
<rect x="150" y="84" width="745" height="1"/><rect x="150" y="623" width="745" height="1"/><rect x="150" y="84" width="1" height="540"/><rect x="894" y="84" width="1" height="540"/>
<rect x="150" y="624" width="1" height="4"/><rect x="150" y="628" width="1" height="1" fill="#7f7f7f"/>
<rect x="274" y="624" width="1" height="4"/><rect x="274" y="628" width="1" height="1" fill="#7f7f7f"/>
<rect x="398" y="624" width="1" height="4"/><rect x="398" y="628" width="1" height="1" fill="#7f7f7f"/>
<rect x="522" y="624" width="1" height="4"/><rect x="522" y="628" width="1" height="1" fill="#7f7f7f"/>
<rect x="646" y="624" width="1" height="4"/><rect x="646" y="628" width="1" height="1" fill="#7f7f7f"/>
<rect x="770" y="624" width="1" height="4"/><rect x="770" y="628" width="1" height="1" fill="#7f7f7f"/>
<rect x="894" y="624" width="1" height="4"/><rect x="894" y="628" width="1" height="1" fill="#7f7f7f"/>
<rect x="146" y="138" width="4" height="1"/><rect x="145" y="138" width="1" height="1" fill="#7f7f7f"/>
<rect x="146" y="210" width="4" height="1"/><rect x="145" y="210" width="1" height="1" fill="#7f7f7f"/>
<rect x="146" y="282" width="4" height="1"/><rect x="145" y="282" width="1" height="1" fill="#7f7f7f"/>
<rect x="146" y="354" width="4" height="1"/><rect x="145" y="354" width="1" height="1" fill="#7f7f7f"/>
<rect x="146" y="425" width="4" height="1"/><rect x="145" y="425" width="1" height="1" fill="#7f7f7f"/>
<rect x="146" y="497" width="4" height="1"/><rect x="145" y="497" width="1" height="1" fill="#7f7f7f"/>
<rect x="146" y="569" width="4" height="1"/><rect x="145" y="569" width="1" height="1" fill="#7f7f7f"/>
</g>
<g fill="#000" fill-opacity="0.058">
<rect x="149" y="83" width="747" height="1"/><rect x="151" y="85" width="743" height="1"/><rect x="151" y="622" width="743" height="1"/><rect x="149" y="624" width="747" height="1"/>
<rect x="149" y="84" width="1" height="540"/><rect x="151" y="85" width="1" height="538"/><rect x="893" y="85" width="1" height="538"/><rect x="895" y="84" width="1" height="540"/>
<rect x="149" y="625" width="1" height="3"/><rect x="151" y="625" width="1" height="3"/>
<rect x="273" y="625" width="1" height="3"/><rect x="275" y="625" width="1" height="3"/>
<rect x="397" y="625" width="1" height="3"/><rect x="399" y="625" width="1" height="3"/>
<rect x="521" y="625" width="1" height="3"/><rect x="523" y="625" width="1" height="3"/>
<rect x="645" y="625" width="1" height="3"/><rect x="647" y="625" width="1" height="3"/>
<rect x="769" y="625" width="1" height="3"/><rect x="771" y="625" width="1" height="3"/>
<rect x="893" y="625" width="1" height="3"/><rect x="895" y="625" width="1" height="3"/>
<rect x="146" y="137" width="3" height="1"/><rect x="146" y="139" width="3" height="1"/>
<rect x="146" y="209" width="3" height="1"/><rect x="146" y="211" width="3" height="1"/>
<rect x="146" y="281" width="3" height="1"/><rect x="146" y="283" width="3" height="1"/>
<rect x="146" y="353" width="3" height="1"/><rect x="146" y="355" width="3" height="1"/>
<rect x="146" y="424" width="3" height="1"/><rect x="146" y="426" width="3" height="1"/>
<rect x="146" y="496" width="3" height="1"/><rect x="146" y="498" width="3" height="1"/>
<rect x="146" y="568" width="3" height="1"/><rect x="146" y="570" width="3" height="1"/>
<rect x="940" y="83" width="29" height="1"/><rect x="940" y="624" width="29" height="1"/><rect x="940" y="84" width="1" height="540"/><rect x="968" y="84" width="1" height="540"/>
<rect x="969" y="622" width="3" height="1"/><rect x="969" y="624" width="3" height="1"/>
<rect x="969" y="514" width="3" height="1"/><rect x="969" y="516" width="3" height="1"/>
<rect x="969" y="406" width="3" height="1"/><rect x="969" y="408" width="3" height="1"/>
<rect x="969" y="299" width="3" height="1"/><rect x="969" y="301" width="3" height="1"/>
<rect x="969" y="191" width="3" height="1"/><rect x="969" y="193" width="3" height="1"/>
<rect x="969" y="83" width="3" height="1"/><rect x="969" y="85" width="3" height="1"/>
</g>
<g shape-rendering="crispEdges">
<rect x="941" y="612" width="27" height="12" fill="rgb(19,0,21)"/>
<rect x="941" y="601" width="27" height="11" fill="rgb(65,0,75)"/>
<rect x="941" y="591" width="27" height="10" fill="rgb(112,0,128)"/>
<rect x="941" y="580" width="27" height="11" fill="rgb(125,0,142)"/>
<rect x="941" y="569" width="27" height="11" fill="rgb(133,0,150)"/>
<rect x="941" y="558" width="27" height="11" fill="rgb(109,0,156)"/>
<rect x="941" y="548" width="27" height="10" fill="rgb(56,0,163)"/>
<rect x="941" y="537" width="27" height="11" fill="rgb(3,0,170)"/>
<rect x="941" y="526" width="27" height="11" fill="rgb(0,0,189)"/>
<rect x="941" y="515" width="27" height="11" fill="rgb(0,0,209)"/>
<rect x="941" y="504" width="27" height="11" fill="rgb(0,19,221)"/>
<rect x="941" y="494" width="27" height="10" fill="rgb(0,65,221)"/>
<rect x="941" y="483" width="27" height="11" fill="rgb(0,120,221)"/>
<rect x="941" y="472" width="27" height="11" fill="rgb(0,133,221)"/>
<rect x="941" y="461" width="27" height="11" fill="rgb(0,146,221)"/>
<rect x="941" y="451" width="27" height="10" fill="rgb(0,156,211)"/>
<rect x="941" y="440" width="27" height="11" fill="rgb(0,163,191)"/>
<rect x="941" y="429" width="27" height="11" fill="rgb(0,170,171)"/>
<rect x="941" y="418" width="27" height="11" fill="rgb(0,170,157)"/>
<rect x="941" y="407" width="27" height="11" fill="rgb(0,170,144)"/>
<rect x="941" y="397" width="27" height="10" fill="rgb(0,167,115)"/>
<rect x="941" y="386" width="27" height="11" fill="rgb(0,159,51)"/>
<rect x="941" y="375" width="27" height="11" fill="rgb(0,154,0)"/>
<rect x="941" y="364" width="27" height="11" fill="rgb(0,167,0)"/>
<rect x="941" y="353" width="27" height="11" fill="rgb(0,180,0)"/>
<rect x="941" y="343" width="27" height="10" fill="rgb(0,194,0)"/>
<rect x="941" y="332" width="27" height="11" fill="rgb(0,207,0)"/>
<rect x="941" y="321" width="27" height="11" fill="rgb(0,220,0)"/>
<rect x="941" y="310" width="27" height="11" fill="rgb(0,234,0)"/>
<rect x="941" y="300" width="27" height="10" fill="rgb(0,250,0)"/>
<rect x="941" y="289" width="27" height="11" fill="rgb(44,255,0)"/>
<rect x="941" y="278" width="27" height="11" fill="rgb(117,255,0)"/>
<rect x="941" y="267" width="27" height="11" fill="rgb(188,255,0)"/>
<rect x="941" y="256" width="27" height="11" fill="rgb(208,248,0)"/>
<rect x="941" y="246" width="27" height="10" fill="rgb(228,241,0)"/>
<rect x="941" y="235" width="27" height="11" fill="rgb(241,231,0)"/>
<rect x="941" y="224" width="27" height="11" fill="rgb(248,218,0)"/>
<rect x="941" y="213" width="27" height="11" fill="rgb(255,201,0)"/>
<rect x="941" y="203" width="27" height="10" fill="rgb(255,181,0)"/>
<rect x="941" y="192" width="27" height="11" fill="rgb(255,161,0)"/>
<rect x="941" y="181" width="27" height="11" fill="rgb(255,117,0)"/>
<rect x="941" y="170" width="27" height="11" fill="rgb(255,57,0)"/>
<rect x="941" y="159" width="27" height="11" fill="rgb(254,0,0)"/>
<rect x="941" y="149" width="27" height="10" fill="rgb(241,0,0)"/>
<rect x="941" y="138" width="27" height="11" fill="rgb(228,0,0)"/>
<rect x="941" y="127" width="27" height="11" fill="rgb(218,0,0)"/>
<rect x="941" y="116" width="27" height="11" fill="rgb(210,0,0)"/>
<rect x="941" y="106" width="27" height="10" fill="rgb(204,12,12)"/>
<rect x="941" y="95" width="27" height="11" fill="rgb(204,92,92)"/>
<rect x="941" y="84" width="27" height="11" fill="rgb(204,172,172)"/>
</g>
<g fill="#000"><rect x="941" y="84" width="27" height="1"/><rect x="941" y="623" width="27" height="1"/><rect x="941" y="84" width="1" height="540"/><rect x="967" y="84" width="1" height="540"/>
<rect x="968" y="623" width="4" height="1"/><rect x="972" y="623" width="1" height="1" fill="#7f7f7f"/>
<rect x="968" y="515" width="4" height="1"/><rect x="972" y="515" width="1" height="1" fill="#7f7f7f"/>
<rect x="968" y="407" width="4" height="1"/><rect x="972" y="407" width="1" height="1" fill="#7f7f7f"/>
<rect x="968" y="300" width="4" height="1"/><rect x="972" y="300" width="1" height="1" fill="#7f7f7f"/>
<rect x="968" y="192" width="4" height="1"/><rect x="972" y="192" width="1" height="1" fill="#7f7f7f"/>
<rect x="968" y="84" width="4" height="1"/><rect x="972" y="84" width="1" height="1" fill="#7f7f7f"/>
</g>
<text class="mono" transform="translate(521.6,75.7) scale(1.003,1.1)" font-size="27.78" text-anchor="middle">Electron_density at 130.103084 fs</text>
<text class="sans" transform="translate(131.40,656.10) scale(1.190,1)" font-size="30.40" text-anchor="start">−</text>
<text class="sans" transform="translate(161.70,654.60) scale(1.020,1)" font-size="30.40" text-anchor="middle">5</text>
<text class="sans" transform="translate(274.50,654.60) scale(1.020,1)" font-size="30.40" text-anchor="middle">0</text>
<text class="sans" transform="translate(398.50,654.60) scale(1.020,1)" font-size="30.40" text-anchor="middle">5</text>
<text class="sans" transform="translate(522.50,654.60) scale(1.020,1)" font-size="30.40" text-anchor="middle">10</text>
<text class="sans" transform="translate(646.50,654.60) scale(1.020,1)" font-size="30.40" text-anchor="middle">15</text>
<text class="sans" transform="translate(770.50,654.60) scale(1.020,1)" font-size="30.40" text-anchor="middle">20</text>
<text class="sans" transform="translate(894.50,654.60) scale(1.020,1)" font-size="30.40" text-anchor="middle">25</text>
<text class="sans" transform="translate(141.60,148.90) scale(1.020,1)" font-size="30.40" text-anchor="end">6</text>
<text class="sans" transform="translate(141.60,220.90) scale(1.020,1)" font-size="30.40" text-anchor="end">4</text>
<text class="sans" transform="translate(141.60,292.90) scale(1.020,1)" font-size="30.40" text-anchor="end">2</text>
<text class="sans" transform="translate(141.60,364.40) scale(1.020,1)" font-size="30.40" text-anchor="end">0</text>
<text class="sans" transform="translate(139.70,435.90) scale(1.020,1)" font-size="30.40" text-anchor="end">2</text>
<text class="sans" transform="translate(100.40,437.40) scale(1.190,1)" font-size="30.40" text-anchor="start">−</text>
<text class="sans" transform="translate(139.70,507.90) scale(1.020,1)" font-size="30.40" text-anchor="end">4</text>
<text class="sans" transform="translate(100.40,509.40) scale(1.190,1)" font-size="30.40" text-anchor="start">−</text>
<text class="sans" transform="translate(139.70,579.90) scale(1.020,1)" font-size="30.40" text-anchor="end">6</text>
<text class="sans" transform="translate(100.40,581.40) scale(1.190,1)" font-size="30.40" text-anchor="start">−</text>
<text class="sans" transform="translate(978.20,631.30) scale(1.020,1)" font-size="22.80" text-anchor="start">0</text>
<text class="sans" transform="translate(978.20,523.30) scale(1.020,1)" font-size="22.80" text-anchor="start">10</text>
<text class="sans" transform="translate(978.20,415.30) scale(1.020,1)" font-size="22.80" text-anchor="start">20</text>
<text class="sans" transform="translate(978.20,308.30) scale(1.020,1)" font-size="22.80" text-anchor="start">30</text>
<text class="sans" transform="translate(978.20,200.30) scale(1.020,1)" font-size="22.80" text-anchor="start">40</text>
<text class="sans" transform="translate(978.20,92.30) scale(1.020,1)" font-size="22.80" text-anchor="start">50</text>
<g transform="translate(468.50,689.50)" font-size="27.78">
<text class="mono" transform="translate(0.00,0.00) scale(1.000,1.100)">X [</text>
<text class="sans" transform="translate(51.00,0.00) scale(1.120,1.100)" font-style="italic">μm</text>
<text class="mono" transform="translate(94.00,0.00) scale(1.000,1.100)">]</text>
</g>
<g transform="translate(85.00,407.60) rotate(-90)" font-size="27.78">
<text class="mono" transform="translate(0.00,0.00) scale(1.000,1.100)">Y [</text>
<text class="sans" transform="translate(51.00,0.00) scale(1.120,1.100)" font-style="italic">μm</text>
<text class="mono" transform="translate(94.00,0.00) scale(1.000,1.100)">]</text>
</g>
<g transform="translate(1032.30,515.00) rotate(-90)" font-size="27.78">
<text class="mono" transform="translate(0.00,0.00) scale(1.003,1.100)">Electron_density[</text>
<text class="sans" transform="translate(284.20,0.00) scale(1.050,1.100)" font-style="italic">n</text>
<text class="sans" transform="translate(301.00,4.50) scale(1.050,1.100)" font-style="italic" font-size="19.45">c</text>
<text class="mono" transform="translate(311.30,0.00) scale(1.000,1.100)">]</text>
</g>
</svg></body></html>
